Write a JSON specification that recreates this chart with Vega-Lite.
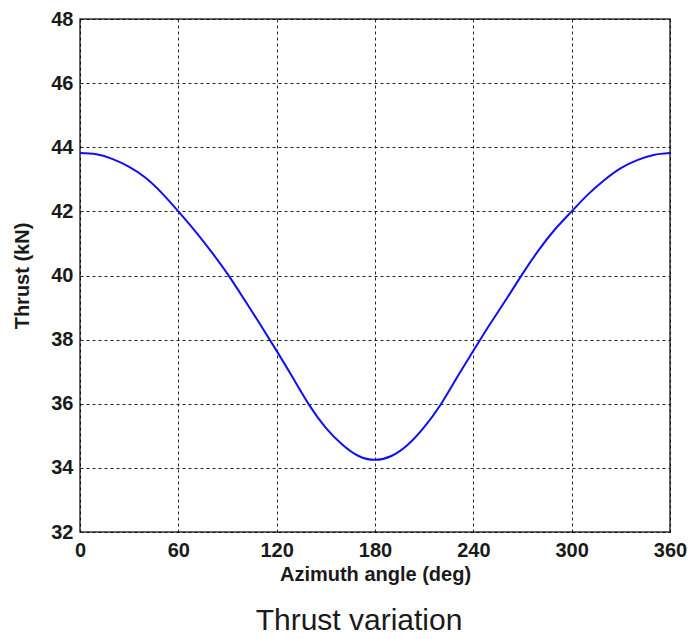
{
  "$schema": "https://vega.github.io/schema/vega-lite/v6.json",
  "autosize": "none",
  "width": 590,
  "height": 513,
  "padding": {"left": 80, "top": 19, "right": 19, "bottom": 107},
  "background": "white",
  "title": {
    "text": "Thrust variation",
    "orient": "bottom",
    "anchor": "middle",
    "dx": -16,
    "offset": 22,
    "font": "Liberation Sans",
    "fontSize": 30,
    "fontWeight": "normal",
    "color": "#1a1a1a"
  },
  "config": {
    "view": {"stroke": "#333333", "strokeWidth": 1.5},
    "axis": {
      "labelFont": "Liberation Sans",
      "labelFontSize": 20,
      "labelFontWeight": "bold",
      "labelColor": "#1a1a1a",
      "titleFont": "Liberation Sans",
      "titleFontSize": 20,
      "titleFontWeight": "bold",
      "titleColor": "#1a1a1a",
      "grid": true,
      "gridColor": "#000000",
      "gridDash": [3, 3],
      "gridWidth": 1,
      "gridOpacity": 0.85,
      "domain": false,
      "ticks": false,
      "labelOverlap": false,
      "labelFlush": false
    }
  },
  "data": {
    "values": [
      {"angle": 0, "thrust": 43.82},
      {"angle": 10, "thrust": 43.78},
      {"angle": 20, "thrust": 43.63},
      {"angle": 30, "thrust": 43.39},
      {"angle": 40, "thrust": 43.05},
      {"angle": 50, "thrust": 42.57},
      {"angle": 60, "thrust": 42.0},
      {"angle": 70, "thrust": 41.4},
      {"angle": 80, "thrust": 40.75},
      {"angle": 90, "thrust": 40.05},
      {"angle": 100, "thrust": 39.27},
      {"angle": 110, "thrust": 38.47},
      {"angle": 120, "thrust": 37.65},
      {"angle": 130, "thrust": 36.8},
      {"angle": 140, "thrust": 35.95},
      {"angle": 150, "thrust": 35.25},
      {"angle": 160, "thrust": 34.73},
      {"angle": 170, "thrust": 34.37},
      {"angle": 180, "thrust": 34.25},
      {"angle": 190, "thrust": 34.37},
      {"angle": 200, "thrust": 34.72},
      {"angle": 210, "thrust": 35.27},
      {"angle": 220, "thrust": 35.97},
      {"angle": 230, "thrust": 36.82},
      {"angle": 240, "thrust": 37.65},
      {"angle": 250, "thrust": 38.47},
      {"angle": 260, "thrust": 39.25},
      {"angle": 270, "thrust": 40.05},
      {"angle": 280, "thrust": 40.8},
      {"angle": 290, "thrust": 41.45},
      {"angle": 300, "thrust": 42.0},
      {"angle": 310, "thrust": 42.53},
      {"angle": 320, "thrust": 42.98},
      {"angle": 330, "thrust": 43.35},
      {"angle": 340, "thrust": 43.6},
      {"angle": 350, "thrust": 43.76},
      {"angle": 360, "thrust": 43.82}
    ]
  },
  "mark": {"type": "line", "color": "#1010ee", "strokeWidth": 2, "interpolate": "natural"},
  "encoding": {
    "x": {
      "field": "angle",
      "type": "quantitative",
      "title": "Azimuth angle (deg)",
      "scale": {"domain": [0, 360], "nice": false, "zero": false},
      "axis": {"values": [0, 60, 120, 180, 240, 300, 360], "labelPadding": 8, "titlePadding": 4}
    },
    "y": {
      "field": "thrust",
      "type": "quantitative",
      "title": "Thrust (kN)",
      "scale": {"domain": [32, 48], "nice": false, "zero": false},
      "axis": {"values": [32, 34, 36, 38, 40, 42, 44, 46, 48], "labelPadding": 7, "titlePadding": 18}
    }
  }
}
